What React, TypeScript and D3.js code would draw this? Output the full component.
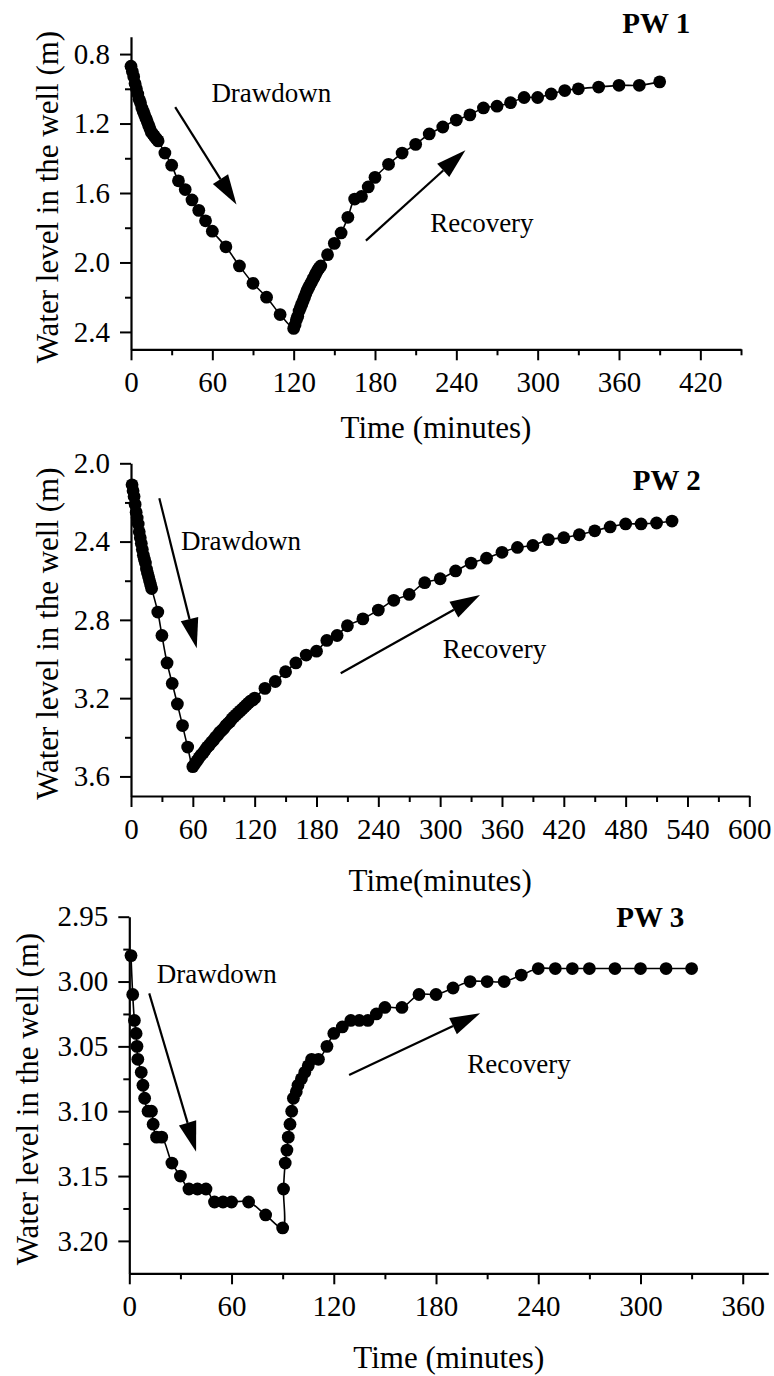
import React, { useEffect, useRef } from "react";
import * as d3 from "d3";

// ---------- PW 1 ----------
const pw1Times = [
  0, 1, 2, 3, 4, 5, 6, 7, 8, 9, 10, 11, 12, 13, 14, 15, 16, 17, 18, 19, 20,
  25, 30, 35, 40, 45, 50, 55, 60, 70, 80, 90, 100, 110, 120,
  121, 122, 123, 124, 125, 126, 127, 128, 129, 130, 131, 132, 133, 134, 135, 136, 137, 138, 139, 140,
  145, 150, 155, 160, 165, 170, 175, 180, 190, 200, 210, 220, 230, 240, 250, 260, 270, 280, 290,
  300, 310, 320, 330, 345, 360, 375, 390,
];
const pw1Levels = [
  0.87, 0.9, 0.93, 0.97, 1.0, 1.03, 1.06, 1.08, 1.11, 1.13, 1.15, 1.17, 1.19, 1.21, 1.23, 1.25, 1.26, 1.27, 1.28, 1.29, 1.3,
  1.37, 1.44, 1.53, 1.58, 1.64, 1.7, 1.76, 1.82, 1.91, 2.02, 2.12, 2.2, 2.3, 2.38,
  2.36, 2.33, 2.31, 2.28, 2.26, 2.24, 2.22, 2.2, 2.18, 2.16, 2.145, 2.13, 2.115, 2.1, 2.085, 2.07, 2.055, 2.04, 2.03, 2.02,
  1.955, 1.89, 1.83, 1.74, 1.635, 1.62, 1.565, 1.51, 1.435, 1.37, 1.32, 1.26, 1.22, 1.18, 1.15, 1.11, 1.1, 1.08, 1.05,
  1.05, 1.03, 1.01, 1.0, 0.99, 0.98, 0.98, 0.96,
];

// ---------- PW 2 ----------
const pw2Times = [
  1, 2, 3, 4, 5, 6, 7, 8, 9, 10, 11, 12, 13, 14, 15, 16, 17, 18, 19, 20,
  26, 30, 35, 40, 45, 50, 55, 60,
  62, 64, 66, 68, 70, 72, 74, 76, 78, 80, 82, 84, 86, 88, 90, 92, 94, 96, 98, 100,
  102, 104, 106, 108, 110, 112, 114, 116, 118, 120,
  130, 140, 150, 160, 170, 180, 190, 200, 210, 225, 240, 255, 270, 285, 300, 315, 330, 345,
  360, 375, 390, 405, 420, 435, 450, 465, 480, 495, 510, 525,
];
const pw2Levels = [
  2.11, 2.14, 2.17, 2.21, 2.25, 2.28, 2.31, 2.35, 2.38, 2.41, 2.44, 2.47, 2.49, 2.51, 2.54, 2.56, 2.58, 2.6, 2.62, 2.64,
  2.76, 2.88, 3.02, 3.125, 3.23, 3.34, 3.45, 3.55,
  3.535, 3.52, 3.505, 3.49, 3.48, 3.465, 3.45, 3.44, 3.425, 3.415, 3.4, 3.39, 3.375, 3.365, 3.355, 3.34, 3.33, 3.32, 3.305, 3.295,
  3.285, 3.275, 3.265, 3.255, 3.245, 3.235, 3.225, 3.215, 3.21, 3.2,
  3.15, 3.115, 3.065, 3.02, 2.98, 2.96, 2.905, 2.88, 2.83, 2.795, 2.75, 2.7, 2.67, 2.61, 2.59, 2.55, 2.51, 2.485,
  2.455, 2.43, 2.42, 2.39, 2.38, 2.365, 2.345, 2.325, 2.31, 2.31, 2.305, 2.295,
];

// ---------- PW 3 ----------
const pw3Times = [
  1, 2, 3, 4, 4.5, 5, 7, 8, 9, 11, 13, 14, 16, 19, 25, 30, 35, 40, 45, 50, 55, 60, 70, 80, 90,
  90.5, 91.5, 92.5, 93.3, 94.3, 95.3, 96.3, 98, 99, 101, 103, 105, 107, 111, 116, 120, 125, 130,
  135, 140, 145, 150, 160, 170, 180, 190, 200, 210, 220, 230, 240, 250, 260, 270, 285, 300, 315, 330,
];
const pw3Levels = [
  2.98, 3.01, 3.03, 3.04, 3.05, 3.06, 3.07, 3.08, 3.09, 3.1, 3.1, 3.11, 3.12, 3.12, 3.14, 3.15, 3.16, 3.16, 3.16, 3.17, 3.17, 3.17, 3.17, 3.18, 3.19,
  3.16, 3.14, 3.13, 3.12, 3.11, 3.1, 3.09, 3.085, 3.08, 3.075, 3.07, 3.065, 3.06, 3.06, 3.05, 3.04, 3.035, 3.03,
  3.03, 3.03, 3.025, 3.02, 3.02, 3.01, 3.01, 3.005, 3.0, 3.0, 3.0, 2.995, 2.99, 2.99, 2.99, 2.99, 2.99, 2.99, 2.99, 2.99,
];

// ---------- axis ticks ----------
const pw1XMajor = [0, 60, 120, 180, 240, 300, 360, 420];
const pw1XMinor = [30, 90, 150, 210, 270, 330, 390, 450];
const pw1YMajor = [0.8, 1.2, 1.6, 2.0, 2.4];
const pw1YMinor = [1.0, 1.4, 1.8, 2.2];

const pw2XMajor = [0, 60, 120, 180, 240, 300, 360, 420, 480, 540, 600];
const pw2XMinor = [30, 90, 150, 210, 270, 330, 390, 450, 510, 570];
const pw2YMajor = [2.0, 2.4, 2.8, 3.2, 3.6];
const pw2YMinor = [2.2, 2.6, 3.0, 3.4];

const pw3XMajor = [0, 60, 120, 180, 240, 300, 360];
const pw3XMinor = [30, 90, 150, 210, 270, 330];
const pw3YMajor = [2.95, 3.0, 3.05, 3.1, 3.15, 3.2];
const pw3YMinor = [2.975, 3.025, 3.075, 3.125, 3.175];

const yLabel = "Water level in the well (m)";
const FONT = "'Liberation Serif', 'Times New Roman', Times, serif";

type Panel = {
  title: string;
  times: number[];
  levels: number[];
  xDomain: [number, number];
  yDomain: [number, number];
  xMajor: number[];
  xMinor: number[];
  yMajor: number[];
  yMinor: number[];
  yFmt: string;
  xLabel: string;
  left: number;
  right: number;
  top: number;
  bottom: number;
  xLabelY: number;
  yLabelX: number;
  titleAt: [number, number];
  drawText: [number, number];
  recText: [number, number];
  drawArrow: [number, number, number, number];
  recArrow: [number, number, number, number];
};

const panels: Panel[] = [
  {
    title: "PW 1",
    times: pw1Times,
    levels: pw1Levels,
    xDomain: [0, 450],
    yDomain: [0.7, 2.5],
    xMajor: pw1XMajor,
    xMinor: pw1XMinor,
    yMajor: pw1YMajor,
    yMinor: pw1YMinor,
    yFmt: ".1f",
    xLabel: "Time (minutes)",
    left: 131,
    right: 741,
    top: 36.7,
    bottom: 349.3,
    xLabelY: 438,
    yLabelX: 47,
    titleAt: [412.6, 0.677],
    drawText: [59.3, 1.075],
    recText: [220.7, 1.827],
    drawArrow: [32.6, 1.106, 77.8, 1.666],
    recArrow: [173.3, 1.874, 246.7, 1.354],
  },
  {
    title: "PW 2",
    times: pw2Times,
    levels: pw2Levels,
    xDomain: [0, 600],
    yDomain: [2.0, 3.7],
    xMajor: pw2XMajor,
    xMinor: pw2XMinor,
    yMajor: pw2YMajor,
    yMinor: pw2YMinor,
    yFmt: ".1f",
    xLabel: "Time(minutes)",
    left: 131,
    right: 749.3,
    top: 463.3,
    bottom: 796,
    xLabelY: 891,
    yLabelX: 47,
    titleAt: [552.8, 2.136],
    drawText: [48.5, 2.443],
    recText: [302.5, 2.995],
    drawArrow: [27.5, 2.179, 63.8, 2.945],
    recArrow: [203.5, 3.073, 338.7, 2.673],
  },
  {
    title: "PW 3",
    times: pw3Times,
    levels: pw3Levels,
    xDomain: [0, 375],
    yDomain: [2.95, 3.225],
    xMajor: pw3XMajor,
    xMinor: pw3XMinor,
    yMajor: pw3YMajor,
    yMinor: pw3YMinor,
    yFmt: ".2f",
    xLabel: "Time (minutes)",
    left: 129.3,
    right: 768.3,
    top: 916.7,
    bottom: 1273.3,
    xLabelY: 1368,
    yLabelX: 27,
    titleAt: [325.7, 2.9577],
    drawText: [16.1, 3.0011],
    recText: [198.4, 3.0705],
    drawArrow: [11.7, 3.0091, 39.2, 3.1312],
    recArrow: [129, 3.0721, 205.9, 3.0245],
  },
];

function drawArrow(g: any, x1: number, y1: number, x2: number, y2: number) {
  const ang = Math.atan2(y2 - y1, x2 - x1);
  const len = 30;
  const hw = 9;
  const bx = x2 - len * Math.cos(ang);
  const by = y2 - len * Math.sin(ang);
  g.append("line")
    .attr("x1", x1)
    .attr("y1", y1)
    .attr("x2", bx)
    .attr("y2", by)
    .attr("stroke", "#000")
    .attr("stroke-width", 2.2);
  const px = -Math.sin(ang);
  const py = Math.cos(ang);
  const pts = [
    [x2, y2],
    [bx + px * hw, by + py * hw],
    [bx - px * hw, by - py * hw],
  ];
  g.append("path")
    .attr("d", "M" + pts.map((p) => p.join(",")).join("L") + "Z")
    .attr("fill", "#000");
}

export default function App() {
  const ref = useRef<SVGSVGElement | null>(null);

  useEffect(() => {
    const svg = d3.select(ref.current);
    svg.selectAll("*").remove();

    panels.forEach((p) => {
      const x = d3.scaleLinear().domain(p.xDomain).range([p.left, p.right]);
      const y = d3.scaleLinear().domain(p.yDomain).range([p.top, p.bottom]);
      const g = svg.append("g");

      const xAxis = g
        .append("g")
        .attr("transform", `translate(0,${p.bottom})`)
        .call(
          d3
            .axisBottom(x)
            .tickValues(p.xMajor)
            .tickSize(11)
            .tickSizeOuter(0)
            .tickPadding(11)
            .tickFormat(d3.format("d") as any)
        );
      g.append("g")
        .attr("transform", `translate(0,${p.bottom})`)
        .call(
          d3
            .axisBottom(x)
            .tickValues(p.xMinor)
            .tickSize(6)
            .tickSizeOuter(0)
            .tickFormat(() => "")
        )
        .call((s: any) => s.select(".domain").remove());

      const yAxis = g
        .append("g")
        .attr("transform", `translate(${p.left},0)`)
        .call(
          d3
            .axisLeft(y)
            .tickValues(p.yMajor)
            .tickSize(11)
            .tickSizeOuter(0)
            .tickPadding(10)
            .tickFormat(d3.format(p.yFmt) as any)
        );
      g.append("g")
        .attr("transform", `translate(${p.left},0)`)
        .call(
          d3
            .axisLeft(y)
            .tickValues(p.yMinor)
            .tickSize(6)
            .tickSizeOuter(0)
            .tickFormat(() => "")
        )
        .call((s: any) => s.select(".domain").remove());

      g.selectAll(".domain").attr("stroke", "#000").attr("stroke-width", 2.2);
      g.selectAll(".tick line").attr("stroke", "#000").attr("stroke-width", 2);
      [xAxis, yAxis].forEach((a) =>
        a
          .selectAll("text")
          .attr("font-family", FONT)
          .attr("font-size", 29)
          .attr("fill", "#000")
      );

      const pts = p.times.map((t, i) => [t, p.levels[i]] as [number, number]);
      const line = d3
        .line<[number, number]>()
        .x((d) => x(d[0]))
        .y((d) => y(d[1]))
        .curve(d3.curveCatmullRom.alpha(0.5));
      g.append("path")
        .attr("d", line(pts) as string)
        .attr("fill", "none")
        .attr("stroke", "#000")
        .attr("stroke-width", 1.6);

      g.append("g")
        .selectAll("circle")
        .data(pts)
        .join("circle")
        .attr("cx", (d) => x(d[0]))
        .attr("cy", (d) => y(d[1]))
        .attr("r", 6.4)
        .attr("fill", "#000");

      g.append("text")
        .attr("x", (p.left + p.right) / 2)
        .attr("y", p.xLabelY)
        .attr("text-anchor", "middle")
        .attr("font-family", FONT)
        .attr("font-size", 31)
        .text(p.xLabel);

      g.append("text")
        .attr(
          "transform",
          `translate(${p.yLabelX},${(p.top + p.bottom) / 2 + 4}) rotate(-90)`
        )
        .attr("text-anchor", "middle")
        .attr("dy", "0.35em")
        .attr("font-family", FONT)
        .attr("font-size", 31)
        .text(yLabel);

      g.append("text")
        .attr("x", x(p.titleAt[0]))
        .attr("y", y(p.titleAt[1]))
        .attr("text-anchor", "end")
        .attr("font-family", FONT)
        .attr("font-weight", "bold")
        .attr("font-size", 29)
        .text(p.title);

      g.append("text")
        .attr("x", x(p.drawText[0]))
        .attr("y", y(p.drawText[1]))
        .attr("font-family", FONT)
        .attr("font-size", 27)
        .text("Drawdown");
      g.append("text")
        .attr("x", x(p.recText[0]))
        .attr("y", y(p.recText[1]))
        .attr("font-family", FONT)
        .attr("font-size", 27)
        .text("Recovery");

      const da = p.drawArrow;
      drawArrow(g, x(da[0]), y(da[1]), x(da[2]), y(da[3]));
      const ra = p.recArrow;
      drawArrow(g, x(ra[0]), y(ra[1]), x(ra[2]), y(ra[3]));
    });
  }, []);

  return (
    <svg
      ref={ref}
      width={774}
      height={1376}
      style={{ position: "absolute", left: 0, top: 0, background: "#fff" }}
    />
  );
}
